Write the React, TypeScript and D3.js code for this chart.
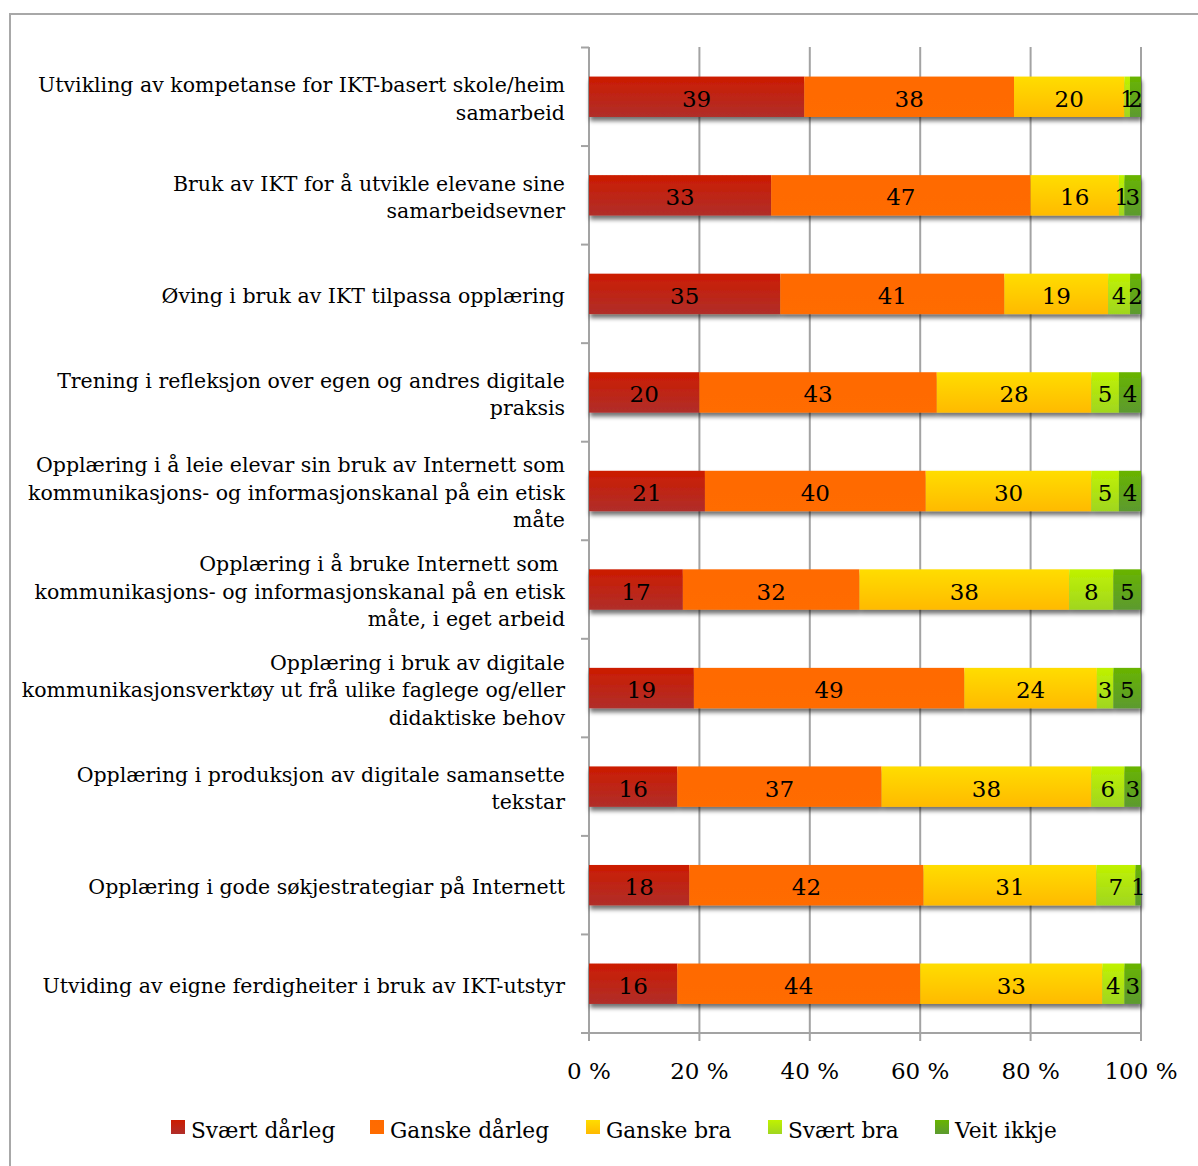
import React, { useEffect } from "react";
import * as d3 from "d3";

const categories: string[][] = [
  ["Utvikling av kompetanse for IKT-basert skole/heim", "samarbeid"],
  ["Bruk av IKT for å utvikle elevane sine", "samarbeidsevner"],
  ["Øving i bruk av IKT tilpassa opplæring"],
  ["Trening i refleksjon over egen og andres digitale", "praksis"],
  ["Opplæring i å leie elevar sin bruk av Internett som", "kommunikasjons- og informasjonskanal på ein etisk", "måte"],
  ["Opplæring i å bruke Internett som ", "kommunikasjons- og informasjonskanal på en etisk", "måte, i eget arbeid"],
  ["Opplæring i bruk av digitale", "kommunikasjonsverktøy ut frå ulike faglege og/eller", "didaktiske behov"],
  ["Opplæring i produksjon av digitale samansette", "tekstar"],
  ["Opplæring i gode søkjestrategiar på Internett"],
  ["Utviding av eigne ferdigheiter i bruk av IKT-utstyr"],
];

const seriesNames = ["Svært dårleg", "Ganske dårleg", "Ganske bra", "Svært bra", "Veit ikkje"];

const svartDarleg = [39, 33, 35, 20, 21, 17, 19, 16, 18, 16];
const ganskeDarleg = [38, 47, 41, 43, 40, 32, 49, 37, 42, 44];
const ganskeBra = [20, 16, 19, 28, 30, 38, 24, 38, 31, 33];
const svartBra = [1, 1, 4, 5, 5, 8, 3, 6, 7, 4];
const veitIkkje = [2, 3, 2, 4, 4, 5, 5, 3, 1, 3];

const xTicks = [0, 0.2, 0.4, 0.6, 0.8, 1];

const gradients = [
  ["#cc1c00", "#b02e2a"],
  ["#ff6a00", "#ff6c00"],
  ["#ffdd00", "#ffba00"],
  ["#c0f200", "#a0d620"],
  ["#68b400", "#5c9a30"],
];

const FONT = "'DejaVu Serif', serif";

export default function App() {
  useEffect(() => {
    document.body.style.margin = "0";
  }, []);

  const W = 1198, H = 1166;
  const x = d3.scaleLinear().domain([0, 1]).range([589, 1141]);
  const keys = categories.map((_, i) => String(i));
  const y = d3.scaleBand<string>().domain(keys).range([47.5, 1033]).paddingInner(0.59).paddingOuter(0.295);
  const step = y.step();
  const allSeries = [svartDarleg, ganskeDarleg, ganskeBra, svartBra, veitIkkje];
  const rows = categories.map((_, i) => {
    const vals = allSeries.map((s) => s[i]);
    const total = d3.sum(vals);
    let acc = 0;
    return vals.map((v, k) => {
      const x0 = acc / total;
      acc += v;
      return { k, v, x0, x1: acc / total };
    });
  });
  const fsCat = 20.5;
  const fsVal = 23;
  const fsTick = 23;
  const fsLeg = 21.7;
  const lineH = 27.5;
  const legendX = [171, 370, 586, 768, 935];

  return (
    <svg width={W} height={H} style={{ display: "block" }} fontFamily={FONT}>
      <defs>
        {gradients.map((g, i) => (
          <linearGradient key={i} id={`g${i}`} x1="0" y1="0" x2="0" y2="1">
            <stop offset="0" stopColor={g[0]} />
            <stop offset="1" stopColor={g[1]} />
          </linearGradient>
        ))}
        <filter id="shadow" x="-5%" y="-30%" width="110%" height="180%">
          <feDropShadow dx="1" dy="4" stdDeviation="2.2" floodColor="#000" floodOpacity="0.55" />
        </filter>
      </defs>
      <rect x={0} y={0} width={W} height={H} fill="#fff" />
      <rect x={10} y={14} width={W + 10} height={H + 10} fill="none" stroke="#a8a8a8" strokeWidth={2} />
      {xTicks.map((t) => (
        <line key={t} x1={x(t)} x2={x(t)} y1={47} y2={1041} stroke="#a3a3a3" strokeWidth={2} />
      ))}
      {d3.range(categories.length + 1).map((i) => (
        <line key={i} x1={581} x2={589} y1={47.5 + i * step} y2={47.5 + i * step} stroke="#a3a3a3" strokeWidth={2} />
      ))}
      <line x1={581} x2={x(1)} y1={1033} y2={1033} stroke="#a3a3a3" strokeWidth={2} />
      {rows.map((segs, i) => (
        <g key={i}>
          <g filter="url(#shadow)">
            {segs.map((s) => (
              <rect
                key={s.k}
                x={x(s.x0)}
                y={y(String(i))!}
                width={x(s.x1) - x(s.x0)}
                height={y.bandwidth()}
                fill={`url(#g${s.k})`}
              />
            ))}
          </g>
          {segs.map((s) => (
            <text
              key={s.k}
              x={(x(s.x0) + x(s.x1)) / 2}
              y={y(String(i))! + y.bandwidth() / 2 + 10}
              textAnchor="middle"
              fontSize={fsVal}
              fill="#000"
            >
              {s.v}
            </text>
          ))}
        </g>
      ))}
      {categories.map((lines, i) => {
        const cy = y(String(i))! + y.bandwidth() / 2;
        const startY = cy - ((lines.length - 1) * lineH) / 2 + 9;
        return (
          <text key={i} textAnchor="end" fontSize={fsCat} fill="#000">
            {lines.map((l, j) => (
              <tspan key={j} x={565} y={startY + j * lineH} style={{ whiteSpace: "pre" }}>
                {l}
              </tspan>
            ))}
          </text>
        );
      })}
      {xTicks.map((t) => (
        <text key={t} x={x(t)} y={1079} textAnchor="middle" fontSize={fsTick} fill="#000">
          {`${Math.round(t * 100)} %`}
        </text>
      ))}
      {seriesNames.map((n, i) => (
        <g key={n}>
          <rect x={legendX[i]} y={1120} width={14} height={14} fill={`url(#g${i})`} />
          <text x={legendX[i] + 20} y={1138} fontSize={fsLeg} fill="#000">
            {n}
          </text>
        </g>
      ))}
    </svg>
  );
}
